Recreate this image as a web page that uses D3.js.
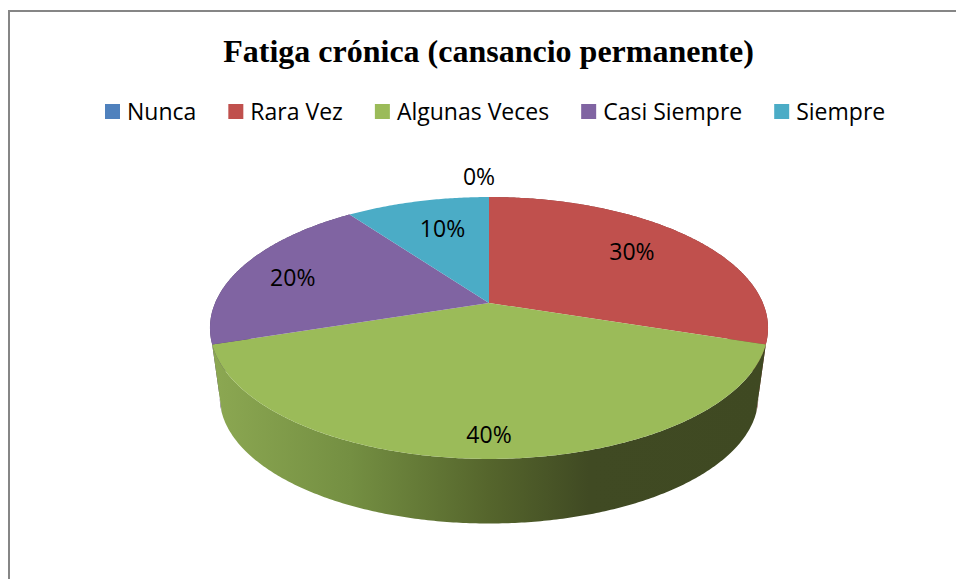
<!DOCTYPE html>
<html>
<head>
<meta charset="utf-8">
<script src="https://cdn.jsdelivr.net/npm/d3@7"></script>
<style>
  html,body{margin:0;padding:0;background:#fff;}
  svg{display:block;}
</style>
</head>
<body>
<div id="chart"></div>
<script>
const title = "Fatiga crónica (cansancio permanente)";
const categories = ["Nunca","Rara Vez","Algunas Veces","Casi Siempre","Siempre"];
const values = [0,30,40,20,10];
const colors = ["#4F81BD","#C0504D","#9BBB59","#8064A2","#4BACC6"];

const width = 956, height = 579;

var svg = d3.select("#chart").append("svg")
  .attr("width",width)
  .attr("height",height);

// frame: only left and top show in the picture
svg.append("path")
  .attr("d","M9,"+height+"V11H"+width)
  .attr("fill","none")
  .attr("stroke","#868686")
  .attr("stroke-width",2);

svg.append("text")
  .attr("x",488.5)
  .attr("y",62)
  .attr("text-anchor","middle")
  .attr("font-family","'Liberation Serif'")
  .attr("font-weight","bold")
  .attr("font-size",32)
  .attr("fill","#000")
  .text(title);

// legend, laid out from the text widths
var legendX = 105;
categories.forEach(function(c,i){
  svg.append("rect")
    .attr("x",legendX).attr("y",104)
    .attr("width",15).attr("height",15)
    .attr("fill",colors[i]);
  var t = svg.append("text")
    .attr("x",legendX+22)
    .attr("y",120)
    .attr("font-family","'Open Sans'")
    .attr("font-size",23)
    .attr("fill","#000")
    .text(c);
  legendX += 22 + t.node().getComputedTextLength() + 32;
});

// tilted pie: a circle seen in perspective
const cx = 489, cy = 303;
const k = 0.1908, A = 273.9, B = 126.2;
const depthY = 70, depthS = 0.965;

function project(a,r,drop,s){
  var u = Math.sin(a)*r, v = Math.cos(a)*r;
  var w = 1 + k*v;
  return [cx + s*A*u/w, cy + drop - s*B*v/w];
}

var pie = d3.pie().sort(null).value(function(d){return d;});
var arcs = pie(values);

function rim(a0,a1,drop,s){
  var n = Math.max(2,Math.ceil(Math.abs(a1-a0)/0.01));
  return d3.range(n+1).map(function(i){
    return project(a0+(a1-a0)*i/n,1,drop,s);
  });
}
var line = d3.line();

var defs = svg.append("defs");
var grad = defs.append("linearGradient")
  .attr("id","wall")
  .attr("gradientUnits","userSpaceOnUse")
  .attr("x1",212).attr("x2",766).attr("y1",0).attr("y2",0);
[[0,"#8CA852"],[0.25,"#748F42"],[0.5,"#55652C"],[0.68,"#404A23"],[1,"#3F4922"]].forEach(function(s){
  grad.append("stop").attr("offset",s[0]).attr("stop-color",s[1]);
});

// side walls, back ones first, green one on top
[1,3,2].forEach(function(i){
  var d = arcs[i];
  var top = rim(d.startAngle,d.endAngle,0,1);
  var bottom = rim(d.endAngle,d.startAngle,depthY,depthS);
  svg.append("path")
    .attr("d",line(top.concat(bottom))+"Z")
    .attr("fill",i==2?"url(#wall)":d3.color(colors[i]).darker(1.2));
});

// top faces
arcs.forEach(function(d,i){
  if(d.value==0) return;
  var pts = [project(0,0,0,1)].concat(rim(d.startAngle,d.endAngle,0,1));
  svg.append("path")
    .attr("d",line(pts)+"Z")
    .attr("fill",colors[i]);
});

// data labels
const labelR = [1.25,0.69,0.872,0.78,0.61];
const labelNudge = [[-10,1],[1,-4],[0,0],[-2,4],[0,-8]];
arcs.forEach(function(d,i){
  var mid = (d.startAngle+d.endAngle)/2;
  var p = project(mid,labelR[i],0,1);
  svg.append("text")
    .attr("x",p[0]+labelNudge[i][0])
    .attr("y",p[1]+labelNudge[i][1])
    .attr("dy","0.36em")
    .attr("text-anchor","middle")
    .attr("font-family","'Open Sans'")
    .attr("font-size",23)
    .attr("fill","#000")
    .text(d.value+"%");
});
</script>
</body>
</html>
